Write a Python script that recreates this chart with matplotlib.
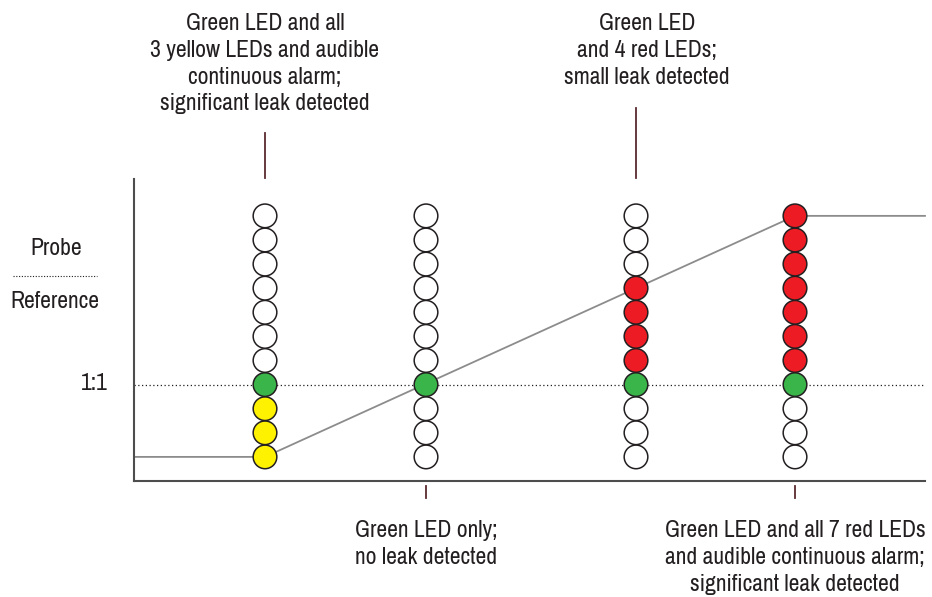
import matplotlib.pyplot as plt
from matplotlib import transforms, font_manager

# narrow font like the original; fall back to a listed family if it is missing
installed = {f.name for f in font_manager.fontManager.ttflist}
if 'Archivo Narrow' in installed:
    FONT, FS = 'Archivo Narrow', 17
else:
    FONT, FS = 'Liberation Sans', 13
plt.rcParams['font.family'] = [FONT, 'DejaVu Sans']

# LED columns (position along the probe/reference axis) and lit LEDs
col_x = [1.31, 2.92, 5.02, 6.61]
n_leds = 11
green_idx = 3
yellow_on = [3, 0, 0, 0]
red_on = [0, 0, 4, 7]

# response curve
curve_x = [0, 1.31, 6.61, 7.91]
curve_y = [0, 0, 10, 10]

top_labels = {
    0: "Green LED and all\n3 yellow LEDs and audible\ncontinuous alarm;\nsignificant leak detected",
    2: "Green LED\nand 4 red LEDs;\nsmall leak detected",
}
bottom_labels = {
    1: "Green LED only;\nno leak detected",
    3: "Green LED and all 7 red LEDs\nand audible continuous alarm;\nsignificant leak detected",
}

YELLOW = '#fff200'
GREEN = '#39b54a'
RED = '#ed1c24'
TXT = '#231f20'
TICK = '#5b2b30'

W, H = 932, 597
fig = plt.figure(figsize=(W / 100, H / 100), dpi=100)
ax_l, ax_r, ax_t, ax_b = 134, 925, 179, 481
ax = fig.add_axes([ax_l / W, (H - ax_b) / H, (ax_r - ax_l) / W, (ax_b - ax_t) / H])
ax.set_xlim(0, 7.91)
ax.set_ylim(-1.0, 11.53)

for s in ['top', 'right']:
    ax.spines[s].set_visible(False)
for s in ['left', 'bottom']:
    ax.spines[s].set_color('#4d4d4d')
    ax.spines[s].set_linewidth(1.5)
ax.set_xticks([])
ax.set_yticks([])

# 1:1 reference line
ax.axhline(green_idx, color='#231f20', lw=0.9, ls=(0, (1, 2)), zorder=1)
ax.plot(curve_x, curve_y, color='#8c8c8c', lw=1.3, zorder=2, clip_on=False)

for i, x in enumerate(col_x):
    colors = []
    for k in range(n_leds):
        if k == green_idx:
            colors.append(GREEN)
        elif green_idx - yellow_on[i] <= k < green_idx:
            colors.append(YELLOW)
        elif green_idx < k <= green_idx + red_on[i]:
            colors.append(RED)
        else:
            colors.append('white')
    ax.scatter([x] * n_leds, range(n_leds), s=290, c=colors,
               edgecolors='#231f20', linewidths=1.1, zorder=3)

trans = transforms.blended_transform_factory(ax.transData, ax.transAxes)
to_ax = lambda py: (ax_b - py) / (ax_b - ax_t)
for i, txt in top_labels.items():
    top = 1.152 if i == 0 else 1.235
    ax.plot([col_x[i]] * 2, [1.003, top], color=TICK, lw=1.3,
            transform=trans, clip_on=False)
    dx = 0 if i == 0 else 0.11
    ax.text(col_x[i] + dx, to_ax(13), txt, transform=trans,
            ha='center', va='top', fontsize=FS, color=TXT, linespacing=1.34)
for i, txt in bottom_labels.items():
    ax.plot([col_x[i]] * 2, [-0.017, -0.056], color=TICK, lw=1.3,
            transform=trans, clip_on=False)
    ax.text(col_x[i], to_ax(520), txt, transform=trans,
            ha='center', va='top', fontsize=FS, color=TXT, linespacing=1.34)

# left side labels
fig.text(56 / W, 1 - 249 / H, 'Probe', ha='center', va='center', fontsize=FS, color=TXT)
fig.text(55 / W, 1 - 302 / H, 'Reference', ha='center', va='center', fontsize=FS, color=TXT)
fig.add_artist(plt.Line2D([13 / W, 97 / W], [1 - 276 / H] * 2, color='#231f20',
                          lw=0.8, ls=(0, (1, 1.5))))
fig.text(108 / W, 1 - 384 / H, '1:1', ha='right', va='center', fontsize=FS, color=TXT)

fig.savefig('out.png', dpi=100, facecolor='white')
